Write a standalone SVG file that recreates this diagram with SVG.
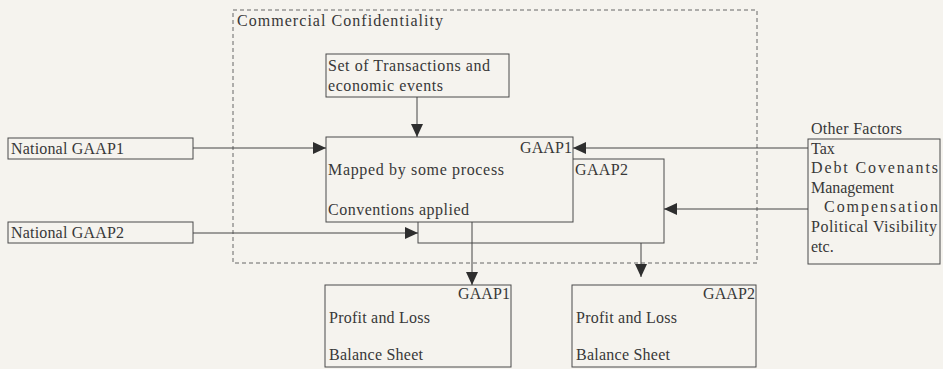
<svg xmlns="http://www.w3.org/2000/svg" width="943" height="369" viewBox="0 0 943 369">
  <style>
    .box { fill: #f5f3ee; stroke: #4a4a4a; stroke-width: 1; }
    .frame { fill: none; stroke: #666; stroke-width: 1; stroke-dasharray: 4 3; }
    .wire { fill: none; stroke: #444; stroke-width: 1; }
    text { font-family: "Liberation Serif", "Times New Roman", serif; font-size: 16px; fill: #383838; }
  </style>
  <defs>
    <marker id="head" markerUnits="userSpaceOnUse" markerWidth="14" markerHeight="12" refX="13" refY="6" orient="auto">
      <path d="M0,0 L13,6 L0,12 Z" fill="#2e2e2e"/>
    </marker>
  </defs>
  <rect width="943" height="369" fill="#f5f3ee"/>

  <!-- confidentiality boundary -->
  <g id="confidentiality">
    <rect class="frame" x="233" y="10" width="524" height="253"/>
    <text x="237" y="26" textLength="206" lengthAdjust="spacing">Commercial Confidentiality</text>
  </g>

  <g id="transactions">
    <rect class="box" x="326" y="54" width="183" height="43"/>
    <text x="328" y="71" textLength="162" lengthAdjust="spacing">Set of Transactions and</text>
    <text x="328" y="91" textLength="115" lengthAdjust="spacing">economic events</text>
  </g>

  <g id="national-gaap1">
    <rect class="box" x="8" y="138" width="185" height="21"/>
    <text x="11" y="154" textLength="113" lengthAdjust="spacing">National GAAP1</text>
  </g>

  <g id="national-gaap2">
    <rect class="box" x="8" y="222" width="185" height="21"/>
    <text x="11" y="238" textLength="113" lengthAdjust="spacing">National GAAP2</text>
  </g>

  <!-- GAAP2 mapping sits behind the GAAP1 mapping -->
  <g id="mapping-gaap2">
    <rect class="box" x="418" y="159" width="246" height="84"/>
    <text x="575" y="175" textLength="53" lengthAdjust="spacing">GAAP2</text>
  </g>

  <g id="mapping-gaap1">
    <rect class="box" x="326" y="137" width="247" height="85"/>
    <text x="520" y="153" textLength="52" lengthAdjust="spacing">GAAP1</text>
    <text x="328" y="175" textLength="176" lengthAdjust="spacing">Mapped by some process</text>
    <text x="328" y="215" textLength="141" lengthAdjust="spacing">Conventions applied</text>
  </g>

  <g id="other-factors">
    <text x="811" y="134" textLength="91" lengthAdjust="spacing">Other Factors</text>
    <rect class="box" x="808" y="139" width="132" height="125"/>
    <text x="811" y="154">Tax</text>
    <text x="811" y="173" textLength="127" lengthAdjust="spacing">Debt Covenants</text>
    <text x="811" y="193" textLength="83" lengthAdjust="spacing">Management</text>
    <text x="824" y="212" textLength="114" lengthAdjust="spacing">Compensation</text>
    <text x="811" y="232" textLength="126" lengthAdjust="spacing">Political Visibility</text>
    <text x="811" y="252">etc.</text>
  </g>

  <g id="statements-gaap1">
    <rect class="box" x="325" y="285" width="186" height="82"/>
    <text x="458" y="299" textLength="52" lengthAdjust="spacing">GAAP1</text>
    <text x="329" y="323" textLength="101" lengthAdjust="spacing">Profit and Loss</text>
    <text x="329" y="360" textLength="94" lengthAdjust="spacing">Balance Sheet</text>
  </g>

  <g id="statements-gaap2">
    <rect class="box" x="572" y="285" width="184" height="82"/>
    <text x="703" y="299" textLength="52" lengthAdjust="spacing">GAAP2</text>
    <text x="576" y="323" textLength="101" lengthAdjust="spacing">Profit and Loss</text>
    <text x="576" y="360" textLength="94" lengthAdjust="spacing">Balance Sheet</text>
  </g>

  <g id="connectors">
    <line class="wire" x1="417" y1="97" x2="417" y2="137" marker-end="url(#head)"/>
    <line class="wire" x1="193" y1="148" x2="326" y2="148" marker-end="url(#head)"/>
    <line class="wire" x1="193" y1="233" x2="418" y2="233" marker-end="url(#head)"/>
    <line class="wire" x1="808" y1="148" x2="573" y2="148" marker-end="url(#head)"/>
    <line class="wire" x1="808" y1="209" x2="664" y2="209" marker-end="url(#head)"/>
    <line class="wire" x1="472" y1="222" x2="472" y2="285" marker-end="url(#head)"/>
    <line class="wire" x1="641" y1="243" x2="641" y2="277" marker-end="url(#head)"/>
  </g>
</svg>
